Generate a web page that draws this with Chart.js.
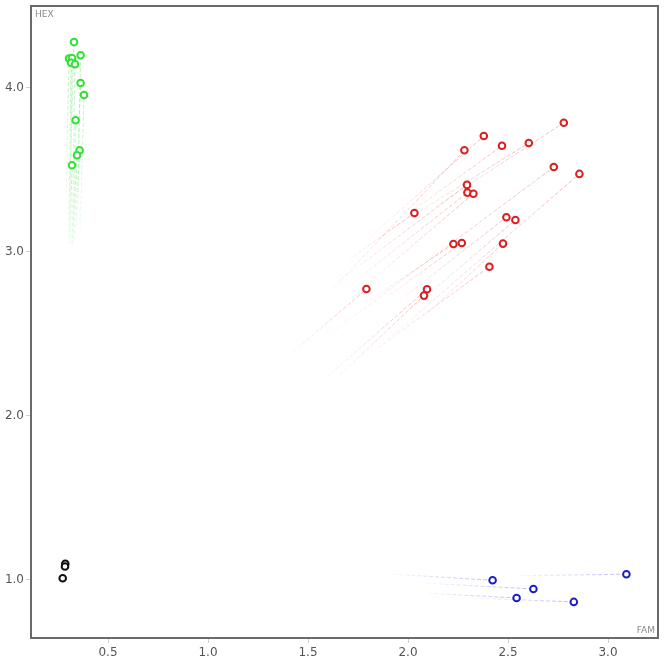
<!DOCTYPE html>
<html>
<head>
<meta charset="utf-8">
<script src="https://cdn.jsdelivr.net/npm/chart.js@4"></script>
<style>
html,body{margin:0;padding:0;background:#fff;}
#wrap{width:664px;height:669px;position:relative;}
</style>
</head>
<body>
<div id="wrap"><canvas id="c" width="664" height="669"></canvas></div>
<script>
// ---- data ----
const xTicks = [0.5, 1.0, 1.5, 2.0, 2.5, 3.0];
const yTicks = [1.0, 2.0, 3.0, 4.0];
const xAxisLabel = "FAM";
const yAxisLabel = "HEX";

const greenX = [0.33, 0.305, 0.32, 0.363, 0.315, 0.335, 0.363, 0.38, 0.338, 0.358, 0.345, 0.32];
const greenY = [4.28, 4.18, 4.183, 4.20, 4.154, 4.145, 4.03, 3.957, 3.803, 3.62, 3.59, 3.529];
const greenTailX = [0.30, 0.29, 0.31, 0.35, 0.305, 0.32, 0.33, 0.36, 0.325, 0.335, 0.32, 0.31];
const greenTailY = [3.043, 3.317, 3.134, 3.256, 3.073, 3.012, 3.073, 3.104, 3.043, 3.073, 3.043, 3.012];

const redX = [2.779, 2.379, 2.282, 2.47, 2.604, 2.729, 2.857, 2.295, 2.297, 2.327, 2.032, 2.492, 2.537, 2.227, 2.269, 2.475, 2.407, 1.792, 2.095, 2.08];
const redY = [3.788, 3.707, 3.62, 3.648, 3.665, 3.518, 3.476, 3.409, 3.362, 3.355, 3.238, 3.212, 3.195, 3.049, 3.055, 3.051, 2.91, 2.774, 2.773, 2.734];
const redTailX = [2.11, 1.81, 1.585, 1.96, 1.91, 1.61, 1.85, 1.66, 1.71, 1.76, 1.70, 1.96, 2.01, 1.81, 1.91, 2.06, 1.85, 1.425, 1.595, 1.66];
const redTailY = [3.256, 3.091, 2.726, 3.195, 3.134, 2.50, 2.415, 2.829, 2.799, 2.768, 2.951, 2.707, 2.646, 2.707, 2.738, 2.585, 2.415, 2.39, 2.238, 2.25];

const blueX = [3.092, 2.423, 2.627, 2.543, 2.829];
const blueY = [1.035, 0.998, 0.945, 0.89, 0.866];
const blueTailX = [2.56, 1.926, 2.093, 2.102, 2.36];
const blueTailY = [1.026, 1.035, 0.98, 0.919, 0.888];

const blackX = [0.2865, 0.285, 0.2735];
const blackY = [1.099, 1.082, 1.01];

// ---- build datasets ----
const groups = [
  {x: greenX, y: greenY, tx: greenTailX, ty: greenTailY, color: "rgb(50,225,50)", rgb: "60,220,60"},
  {x: redX, y: redY, tx: redTailX, ty: redTailY, color: "rgb(220,30,30)", rgb: "230,60,60"},
  {x: blueX, y: blueY, tx: blueTailX, ty: blueTailY, color: "rgb(30,30,200)", rgb: "70,70,220"},
  {x: blackX, y: blackY, tx: null, ty: null, color: "rgb(15,15,15)", rgb: "0,0,0"}
];

const datasets = [];
groups.forEach(g => {
  if (g.tx) {
    g.x.forEach((xv, i) => {
      datasets.push({
        type: "line",
        data: [{x: g.tx[i], y: g.ty[i]}, {x: xv, y: g.y[i]}],
        showLine: true,
        pointRadius: 0,
        borderWidth: 1,
        borderDash: [4, 2],
        borderColor: "rgba(" + g.rgb + ",0.18)",
        segment: {
          borderColor: (ctx) => {
            const c = ctx.chart.ctx;
            const gr = c.createLinearGradient(ctx.p0.x, ctx.p0.y, ctx.p1.x, ctx.p1.y);
            gr.addColorStop(0, "rgba(" + g.rgb + ",0.05)");
            gr.addColorStop(1, "rgba(" + g.rgb + ",0.35)");
            return gr;
          }
        },
        fill: false,
        order: 2
      });
    });
  }
  datasets.push({
    type: "scatter",
    data: g.x.map((xv, i) => ({x: xv, y: g.y[i]})),
    pointRadius: 3.3,
    pointBorderWidth: 2,
    pointBorderColor: g.color,
    pointBackgroundColor: "#ffffff",
    showLine: false,
    order: 0
  });
});

const frame = {
  id: "frame",
  afterDraw(chart) {
    const {ctx, chartArea: a} = chart;
    ctx.save();
    ctx.strokeStyle = "#6a6a6a";
    ctx.lineWidth = 2;
    ctx.strokeRect(a.left, a.top, a.right - a.left, a.bottom - a.top);
    ctx.fillStyle = "#8a8a8a";
    ctx.font = "9px 'DejaVu Sans', sans-serif";
    ctx.textBaseline = "top";
    ctx.textAlign = "left";
    ctx.fillText(yAxisLabel, a.left + 4, a.top + 4);
    ctx.textAlign = "right";
    ctx.textBaseline = "bottom";
    ctx.fillText(xAxisLabel, a.right - 3, a.bottom - 3);
    ctx.restore();
  }
};

new Chart(document.getElementById("c"), {
  type: "scatter",
  data: {datasets},
  options: {
    responsive: false,
    animation: false,
    events: [],
    layout: {padding: {top: 6, right: 6, left: 0, bottom: 0}},
    plugins: {legend: {display: false}, tooltip: {enabled: false}},
    scales: {
      x: {
        type: "linear",
        min: 0.115,
        max: 3.25,
        afterBuildTicks: (s) => { s.ticks = xTicks.map(v => ({value: v})); },
        afterFit: (s) => { s.height = 31; s.paddingLeft = 0; s.paddingRight = 0; },
        border: {display: false},
        grid: {drawOnChartArea: false, drawTicks: true, tickLength: 5, color: "#d0d0d0"},
        ticks: {
          color: "#555",
          font: {family: "'DejaVu Sans', sans-serif", size: 12},
          padding: 3,
          maxRotation: 0,
          callback: (v) => Number(v).toFixed(1)
        }
      },
      y: {
        type: "linear",
        min: 0.646,
        max: 4.5,
        afterBuildTicks: (s) => { s.ticks = yTicks.map(v => ({value: v})); },
        afterFit: (s) => { s.width = 31; s.paddingTop = 0; s.paddingBottom = 0; },
        border: {display: false},
        grid: {drawOnChartArea: false, drawTicks: true, tickLength: 5, color: "#d0d0d0"},
        ticks: {
          color: "#555",
          font: {family: "'DejaVu Sans', sans-serif", size: 12},
          padding: 2,
          callback: (v) => Number(v).toFixed(1)
        }
      }
    }
  },
  plugins: [frame]
});
</script>
</body>
</html>
